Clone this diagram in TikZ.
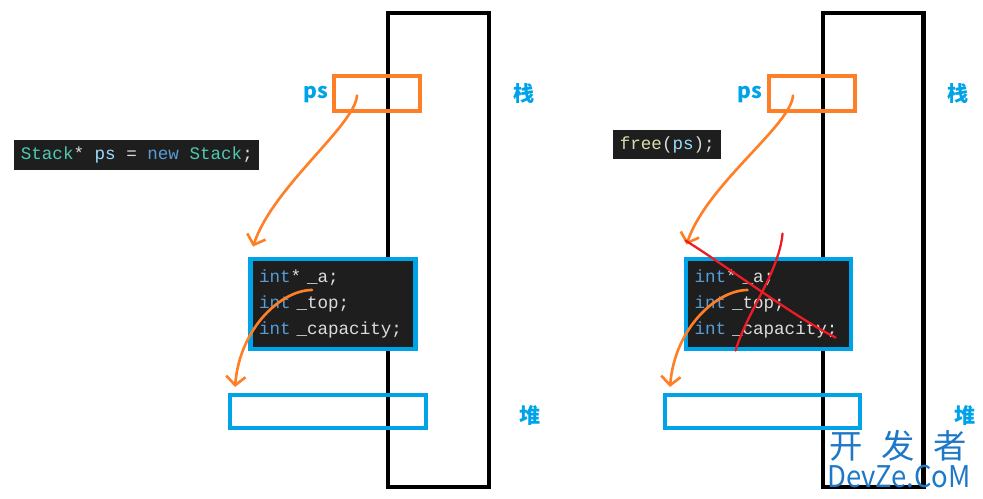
\documentclass[tikz,border=0pt]{standalone}
\usepackage{fontspec}
\setmonofont{Liberation Mono}
\newfontfamily\cjk{Noto Sans CJK SC}
\usetikzlibrary{arrows.meta,calc}
\definecolor{psorange}{RGB}{255,127,39}
\definecolor{heapblue}{RGB}{0,162,232}
\definecolor{codebg}{RGB}{30,30,30}
\definecolor{kwblue}{RGB}{86,156,214}
\definecolor{typeteal}{RGB}{78,201,176}
\definecolor{varblue}{RGB}{156,220,254}
\definecolor{plaintext}{RGB}{220,220,220}
\definecolor{funcyellow}{RGB}{220,220,170}
\definecolor{crossred}{RGB}{237,28,36}
\definecolor{markblue}{RGB}{30,120,200}

\begin{document}
\begin{tikzpicture}[x=0.02cm, y=-0.02cm,
    stackcol/.style={rectangle, draw=black, line width=2.3pt, minimum width=2.02cm, minimum height=9.48cm, inner sep=0pt},
    psbox/.style={rectangle, draw=psorange, line width=2.3pt, minimum width=1.72cm, minimum height=0.7cm, inner sep=0pt},
    heapbox/.style={rectangle, draw=heapblue, line width=2.3pt, minimum height=0.66cm, inner sep=0pt},
    structbox/.style={rectangle, draw=heapblue, line width=2.8pt, fill=codebg, text width=2.96cm, align=left, inner xsep=0.17cm, minimum height=1.8cm, font=\ttfamily\fontsize{10}{14.8}\selectfont},
    codeline/.style={rectangle, fill=codebg, inner xsep=0.13cm, minimum height=0.59cm, font=\ttfamily\fontsize{10}{12}\selectfont},
    tag/.style={text=heapblue, inner sep=0pt, font=\cjk\bfseries\fontsize{12}{14}\selectfont},
    watermark/.style={text=markblue, inner sep=0pt},
    ptr/.style={draw=psorange, line width=1.5pt, line cap=round, -{Straight Barb[length=5pt,width=11pt]}},
    cross/.style={draw=crossred, line width=1.3pt, line cap=round}
]
\useasboundingbox (0,0) rectangle (983,498);

% left: after new
\node[stackcol] (stackL) at (438.5,250) {};
\node[psbox] (psL) at (377,93.5) {};
\node[tag] (psnameL) at (316,95) {ps};
\node[tag] (zhanL) at (524,93) {栈};
\node[codeline, anchor=west] (newL) at (14,155) {\textcolor{typeteal}{Stack}\textcolor{plaintext}{*} \textcolor{varblue}{ps} \textcolor{plaintext}{=} \textcolor{kwblue}{new} \textcolor{typeteal}{Stack}\textcolor{plaintext}{;}};
\node[structbox] (structL) at (333,304) {\textcolor{kwblue}{int}\textcolor{plaintext}{* \_a;}\\\textcolor{kwblue}{int} \textcolor{plaintext}{\_top;}\\\textcolor{kwblue}{int} \textcolor{plaintext}{\_capacity;}};
\node[heapbox, minimum width=3.92cm] (heapL) at (328,411.5) {};
\node[tag] (duiL) at (530,416) {堆};

\draw[ptr] ($(psL.center)+(-20,2)$) .. controls +(-2,30) and +(20,-60) .. ($(structL.north west)+(5,-10)$);
\draw[ptr] ($(structL.center)+(-21,-14)$) .. controls +(-30,0) and +(5,-60) .. ($(heapL.north west)+(7,-6)$);

% right: after free
\node[stackcol] (stackR) at (873,250) {};
\node[psbox] (psR) at (812,93.5) {};
\node[tag] (psnameR) at (750,95) {ps};
\node[tag] (zhanR) at (958,93) {栈};
\node[codeline, anchor=west] (freeR) at (613,144.5) {\textcolor{funcyellow}{free}\textcolor{plaintext}{(}\textcolor{varblue}{ps}\textcolor{plaintext}{);}};
\node[structbox] (structR) at (768.5,304) {\textcolor{kwblue}{int}\textcolor{plaintext}{* \_a;}\\\textcolor{kwblue}{int} \textcolor{plaintext}{\_top;}\\\textcolor{kwblue}{int} \textcolor{plaintext}{\_capacity;}};
\node[heapbox, minimum width=3.9cm] (heapR) at (762.5,411.5) {};
\node[tag] (duiR) at (965,416) {堆};

\draw[ptr] ($(psR.center)+(-19,2)$) .. controls +(-2,30) and +(20,-60) .. ($(structR.north west)+(3,-12)$);
\draw[ptr] ($(structR.center)+(-21,-14)$) .. controls +(-30,0) and +(5,-60) .. ($(heapR.north west)+(7,-6)$);

% the freed block is crossed out
\draw[cross] ($(structR.north west)+(99,-23)$) .. controls +(-4,40) and +(12,-40) .. ($(structR.north west)+(52,94)$);
\draw[cross] ($(structR.north west)+(2,-16)$) .. controls +(40,25) and +(-40,-20) .. ($(structR.north west)+(152,81)$);

% watermark
\node[watermark, font=\cjk\fontsize{19}{20}\selectfont] (markcn) at (898,446) {开\hspace{0.55em}发\hspace{0.55em}者};
\node[watermark, font=\cjk\fontsize{17}{18}\selectfont, xscale=0.92] (markdz) at (899,477) {DevZe.CoM};
\end{tikzpicture}
\end{document}
